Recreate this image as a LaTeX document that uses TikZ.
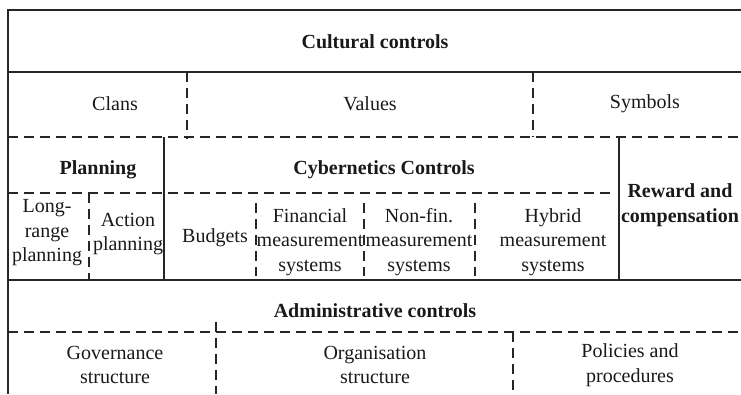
\documentclass[tikz,border=0pt]{standalone}
\usepackage{fontspec}
\setmainfont{Liberation Serif}
\usetikzlibrary{positioning}

\tikzset{
  rule/.style={line width=1.4pt,draw=black!85},
  dashrule/.style={line width=1.3pt,draw=black!85,dash pattern=on 10pt off 6pt},
  cell/.style={font=\fontsize{20}{24.5}\selectfont,align=center,inner sep=0pt,text=black!90},
  head/.style={cell,font=\bfseries\fontsize{20}{24.5}\selectfont},
}

\begin{document}
\begin{tikzpicture}[x=1pt,y=1pt]
  \useasboundingbox (0,0) rectangle (741,394);

  % outer frame: left side and top only
  \draw[rule] (8,0)--(8,384)--(741,384);

  % cultural controls band
  \node[head] (cultural) at (375,352) {Cultural controls};
  \draw[rule] (8,322)--(741,322);
  \node[cell] (clans) at (115,290) {Clans};
  \node[cell] (values) at (370,290) {Values};
  \node[cell] (symbols) at (645,290) {Symbols};
  \draw[dashrule] (187,322)--(187,255);
  \draw[dashrule] (533,322)--(533,257);
  \draw[dashrule] (8,257)--(741,257);

  % planning, cybernetics, reward
  \draw[rule] (164,257)--(164,114);
  \draw[rule] (619,257)--(619,114);
  \node[head] (planning) at (98,224) {Planning};
  \node[head] (cyber) at (384,224) {Cybernetics Controls};
  \node[head] (reward) at (680,189) {Reward and\\compensation};
  \draw[dashrule] (8,201)--(615,201);

  \node[cell] (longrange) at (47,161) {Long-\\range\\planning};
  \node[cell] (action) at (128,160) {Action\\planning};
  \draw[dashrule] (89,201)--(89,114);

  \node[cell] (budgets) at (215,156) {Budgets};
  \node[cell] (financial) at (310,152) {Financial\\measurement\\systems};
  \node[cell] (nonfin) at (419,152) {Non-fin.\\measurement\\systems};
  \node[cell] (hybrid) at (553,152) {Hybrid\\measurement\\systems};
  \foreach \x in {256,364,475}
    \draw[dashrule] (\x,191)--(\x,118);

  % administrative controls band
  \draw[rule] (8,114)--(741,114);
  \node[head] (admin) at (375,83) {Administrative controls};
  \draw[dashrule] (8,62)--(741,62);
  \draw[dashrule] (216,72)--(216,0);
  \draw[dashrule] (513,62)--(513,0);
  \node[cell] (governance) at (115,29) {Governance\\structure};
  \node[cell] (organisation) at (375,29) {Organisation\\structure};
  \node[cell] (policies) at (630,29) {Policies and\\procedures};
\end{tikzpicture}
\end{document}
